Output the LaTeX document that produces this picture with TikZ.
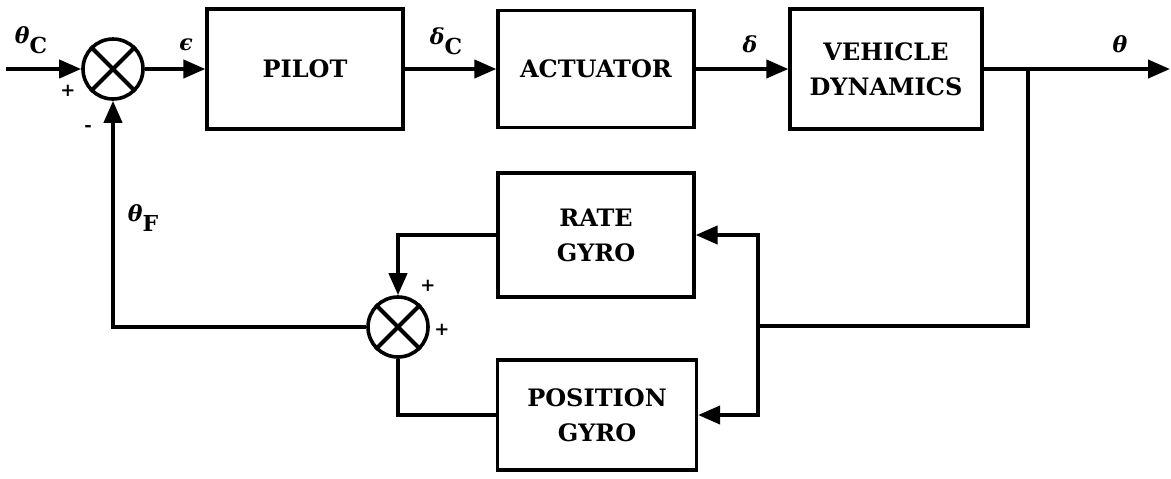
\documentclass[tikz,border=0pt]{standalone}
\usepackage{fontspec}
\setmainfont{DejaVu Serif}
\usepackage{tikz}
\usetikzlibrary{arrows.meta, positioning}

\begin{document}
\begin{tikzpicture}[
    x=0.5pt, y=-0.5pt,
    block/.style={draw, line width=1.6pt, inner sep=0pt, align=center,
        minimum width=98pt, minimum height=60pt,
        font=\bfseries\fontsize{12}{17.5}\selectfont},
    sum/.style={circle, draw, line width=1.8pt, minimum size=30pt, inner sep=0pt},
    arrow/.style={-{Triangle[length=11pt, width=9pt]}, line width=2pt},
    line/.style={line width=2pt},
    lab/.style={inner sep=0pt, font=\bfseries\itshape\fontsize{11}{13}\selectfont},
    sign/.style={inner sep=0pt, font=\bfseries\fontsize{9}{10}\selectfont}
]
\useasboundingbox (0,0) rectangle (1171,478);

% Nodes
\node[block] (pilot) at (305,69) {PILOT};
\node[block, minimum height=58.5pt] (act) at (596,69) {ACTUATOR};
\node[block, minimum width=96pt] (veh) at (886,69) {VEHICLE\\DYNAMICS};
\node[block, minimum height=62pt] (rate) at (596,235) {RATE\\GYRO};
\node[block, minimum width=99.5pt, minimum height=55pt] (pos) at (597,415) {POSITION\\GYRO};

\node[sum] (s1) at (113,69) {};
\node[sum] (s2) at (398,327) {};
\foreach \s in {s1,s2} {
    \draw[line] (\s.45) -- (\s.225);
    \draw[line] (\s.135) -- (\s.315);
}

\coordinate (in) at (6,69);
\coordinate (out) at (1170,69);
\coordinate (br1) at (1028,69);
\coordinate (br2) at (758,326);

% Forward path
\draw[arrow] (in) -- (s1);
\draw[arrow] (s1) -- (pilot);
\draw[arrow] (pilot) -- (act);
\draw[arrow] (act) -- (veh);
\draw[arrow] (veh) -- (out);

% Feedback
\draw[line] (br1) |- (br2);
\draw[arrow] (br2) |- (rate.east);
\draw[arrow] (br2) |- (pos.east);
\draw[arrow] (rate.west) -| (s2.north);
\draw[line] (pos.west) -| (s2.south);
\draw[arrow] (s2.west) -| (s1.south);

% Labels
\node[lab] (thc) at (31,40) {θ\raisebox{-5pt}{\upshape C}};
\node[lab] (eps) at (186,45) {ϵ};
\node[lab] (dc) at (446,41) {δ\raisebox{-5pt}{\upshape C}};
\node[lab] (dl) at (750,44) {δ};
\node[lab] (th) at (1120,44) {θ};
\node[lab] (thf) at (143,218) {θ\raisebox{-5pt}{\upshape F}};

\node[sign] (p1) at (68,91) {+};
\node[sign] (m1) at (88,128) {-};
\node[sign] (p2) at (428,286) {+};
\node[sign] (p3) at (442,330) {+};
\end{tikzpicture}
\end{document}
